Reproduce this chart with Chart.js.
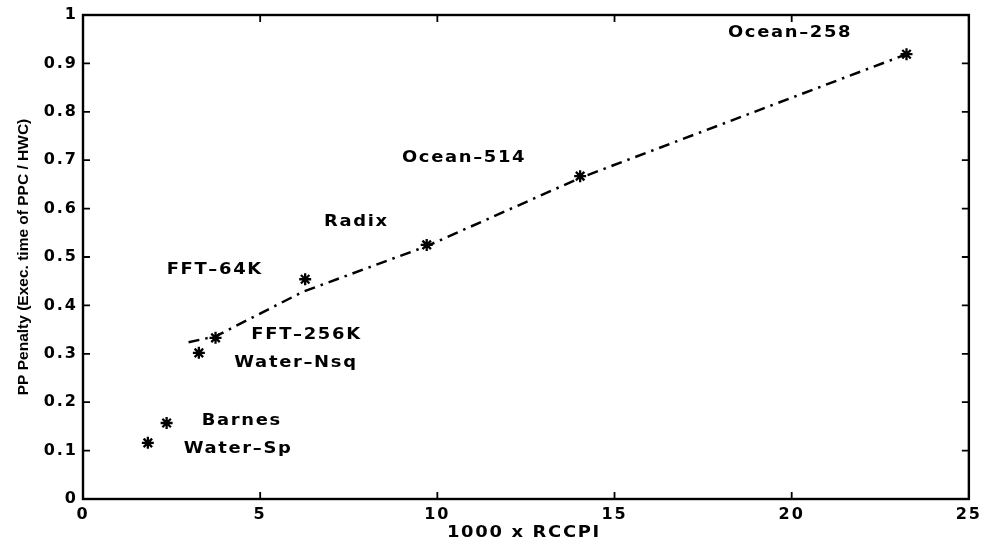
<!DOCTYPE html>
<html><head><meta charset="utf-8">
<script src="https://cdn.jsdelivr.net/npm/chart.js@4"></script>
<style>html,body{margin:0;padding:0;background:#fff}#wrap{width:986px;height:544px}</style>
</head><body><div id="wrap"><canvas id="c" width="986" height="544"></canvas></div>
<script>
// benchmark points (1000 x RCCPI, PP penalty)
const benchX = [1.83, 2.36, 3.27, 3.74, 6.27, 9.70, 14.03, 23.24];
const benchY = [0.116, 0.157, 0.302, 0.333, 0.454, 0.525, 0.667, 0.919];
// dash-dot trend line
const fitX = [2.98, 3.74, 6.2, 9.72, 14.05, 23.24];
const fitY = [0.324, 0.336, 0.428, 0.523, 0.664, 0.919];
// text annotations (anchor = left edge / vertical middle, in data units)
const labelText = ['Ocean–258', 'Ocean–514', 'Radix', 'FFT–64K', 'FFT–256K', 'Water–Nsq', 'Barnes', 'Water–Sp'];
const labelX = [18.2, 9.0, 6.8, 2.36, 4.75, 4.27, 3.35, 2.84];
const labelY = [0.963, 0.705, 0.572, 0.473, 0.339, 0.281, 0.161, 0.103];
const xTickLabels = ['0', '5', '10', '15', '20', '25'];
const yTickLabels = ['0', '0.1', '0.2', '0.3', '0.4', '0.5', '0.6', '0.7', '0.8', '0.9', '1'];
const xTitle = '1000 x RCCPI';
const yTitle = 'PP Penalty (Exec. time of PPC / HWC)';

function wideText(ctx, s, x, y, sx) {
  ctx.save();
  ctx.translate(x, y);
  ctx.scale(sx, 1);
  ctx.fillText(s, 0, 0);
  ctx.restore();
}

const deco = {
  id: 'deco',
  beforeDraw(chart) { chart.ctx.letterSpacing = '2px'; },
  afterDatasetsDraw(chart) {
    const ctx = chart.ctx, a = chart.chartArea;
    const xs = chart.scales.x, ys = chart.scales.y;
    ctx.save();
    ctx.letterSpacing = '0px';
    ctx.strokeStyle = '#000';
    ctx.lineWidth = 2.4;
    ctx.strokeRect(a.left, a.top, a.right - a.left, a.bottom - a.top);
    ctx.lineWidth = 1.8;
    ctx.beginPath();
    xs.ticks.forEach(t => {
      const p = xs.getPixelForValue(t.value);
      ctx.moveTo(p, a.bottom); ctx.lineTo(p, a.bottom - 7);
      ctx.moveTo(p, a.top); ctx.lineTo(p, a.top + 7);
    });
    ys.ticks.forEach(t => {
      const p = ys.getPixelForValue(t.value);
      ctx.moveTo(a.left, p); ctx.lineTo(a.left + 7, p);
      ctx.moveTo(a.right, p); ctx.lineTo(a.right - 7, p);
    });
    ctx.stroke();
    // annotations
    ctx.fillStyle = '#000';
    ctx.letterSpacing = '1.5px';
    ctx.font = 'bold 16px "DejaVu Sans"';
    ctx.textAlign = 'left';
    ctx.textBaseline = 'middle';
    labelText.forEach((s, i) => {
      wideText(ctx, s, xs.getPixelForValue(labelX[i]), ys.getPixelForValue(labelY[i]), 1.12);
    });
    // axis titles
    ctx.textAlign = 'center';
    wideText(ctx, xTitle, (a.left + a.right) / 2 - 2, chart.height - 11, 1.12);
    ctx.letterSpacing = '0px';
    ctx.font = 'bold 15.5px "Liberation Sans"';
    ctx.translate(24, (a.top + a.bottom) / 2);
    ctx.rotate(-Math.PI / 2);
    ctx.fillText(yTitle, 0, 0);
    ctx.restore();
  }
};

const tickFont = { family: 'DejaVu Sans', weight: 'bold', size: 16 };
new Chart(document.getElementById('c'), {
  type: 'scatter',
  data: {
    datasets: [
      {
        data: fitX.map((x, i) => ({ x, y: fitY[i] })),
        showLine: true, borderColor: '#000', borderWidth: 2.5,
        borderDash: [11, 6, 2.5, 6], pointRadius: 0, fill: false, order: 2
      },
      {
        data: benchX.map((x, i) => ({ x, y: benchY[i] })),
        pointStyle: 'star', pointRadius: 6, borderColor: '#000',
        backgroundColor: '#000', borderWidth: 2.3, showLine: false, order: 1
      }
    ]
  },
  options: {
    responsive: false,
    animation: false,
    layout: { padding: { left: 0, right: 14, top: 15, bottom: 0 } },
    plugins: { legend: { display: false }, tooltip: { enabled: false } },
    scales: {
      x: {
        type: 'linear', min: 0, max: 25,
        grid: { display: false, drawTicks: false }, border: { display: false },
        ticks: { stepSize: 5, font: tickFont, color: '#000', padding: 6,
          callback: (v) => xTickLabels[Math.round(v / 5)] },
        afterFit: (s) => { s.height = 45; }
      },
      y: {
        min: 0, max: 1,
        grid: { display: false, drawTicks: false }, border: { display: false },
        ticks: { stepSize: 0.1, font: tickFont, color: '#000', padding: 5,
          callback: (v) => yTickLabels[Math.round(v * 10)] },
        afterFit: (s) => { s.width = 83; }
      }
    }
  },
  plugins: [deco]
});
</script>
</body></html>
